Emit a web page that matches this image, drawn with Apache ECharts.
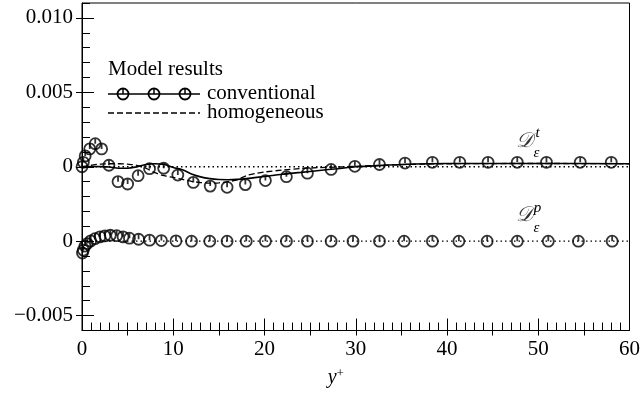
<!DOCTYPE html>
<html>
<head>
<meta charset="utf-8">
<script src="https://cdn.jsdelivr.net/npm/echarts@6/dist/echarts.min.js"></script>
<style>
  html, body { margin: 0; padding: 0; background: #fff; }
  #chart { width: 643px; height: 393px; }
</style>
</head>
<body>
<div id="chart"></div>
<script>
// Vertical shift applied to the pressure-diffusion panel so both terms share one axis
const PANEL_OFFSET = -0.005;

// Turbulent diffusion of dissipation, circles (y+, value)
const turbX = [0.0, 0.15, 0.35, 0.85, 1.45, 2.15, 2.95, 3.95, 5.0, 6.15, 7.4, 8.95, 10.5, 12.2, 14.05, 15.9,
               17.9, 20.1, 22.4, 24.7, 27.3, 29.9, 32.6, 35.4, 38.4, 41.4, 44.5, 47.7, 50.9, 54.6, 58.0];
const turbV = [0.0, 0.0003, 0.00073, 0.0012, 0.00155, 0.0012, 0.0001, -0.001, -0.00116, -0.0006, -0.00013,
               -0.0001, -0.00056, -0.00105, -0.0013, -0.00138, -0.0012, -0.00093, -0.00067, -0.00043, -0.00018,
               0.00003, 0.00015, 0.00025, 0.0003, 0.0003, 0.0003, 0.0003, 0.0003, 0.0003, 0.0003];

// Conventional model, turbulent diffusion (solid line)
const convX = [0, 1, 2, 3, 4, 5, 6, 7, 8, 9, 10, 11, 12, 13, 14, 15, 16, 17, 18, 20, 22, 24, 26, 28, 30, 32, 35, 38, 42, 50, 60];
const convV = [0, 0.00002, 0.00001, -0.00002, -0.0001, -0.0001, 0.0, 0.00015, 0.0002, 0.00015, -0.00005, -0.0002,
               -0.00048, -0.00068, -0.0008, -0.00086, -0.00087, -0.00085, -0.0008, -0.00065, -0.0005, -0.00038,
               -0.00025, -0.00013, 0.0, 0.00006, 0.00015, 0.0002, 0.00022, 0.00022, 0.0002];

// Homogeneous model, turbulent diffusion (dashed line)
const homX = [0, 1, 2, 3, 4, 5, 6, 7, 8, 9, 10, 11, 12, 13, 14, 15, 16, 17, 18, 19, 20, 22, 24, 26, 28, 30, 33, 36, 40, 50, 60];
const homV = [0, 0.0001, 0.00018, 0.0002, 0.0002, 0.00017, 0.0001, -0.0001, -0.0004, -0.0006, -0.00072, -0.00085,
              -0.00098, -0.00106, -0.0011, -0.00108, -0.001, -0.00088, -0.0006, -0.00045, -0.00035, -0.00022,
              -0.00012, -0.00006, -0.00002, 0.00003, 0.0001, 0.00016, 0.0002, 0.00022, 0.0002];

// Pressure diffusion of dissipation, circles (y+, value)
const presX = [0.05, 0.15, 0.33, 0.58, 0.95, 1.42, 1.97, 2.5, 3.1, 3.8, 4.5, 5.2, 6.2, 7.4, 8.7, 10.3, 12, 14, 15.9,
               18, 20.1, 22.4, 24.7, 27.3, 29.7, 32.6, 35.3, 38.4, 41.3, 44.4, 47.7, 51.1, 54.4, 58.1];
const presV = [-0.0008, -0.0006, -0.00033, -0.00016, 0.00002, 0.00017, 0.00029, 0.00035, 0.0004, 0.00037, 0.00029,
               0.0002, 0.00013, 0.00007, 0.00004, 0.00002, 0, 0, 0, 0, 0, 0, 0, 0, 0, 0, 0, 0, 0, 0, 0, 0, 0, 0];

// Axis ticks and labels
const xRange = [0, 60];
const xMidTicks = [5, 10, 15, 20, 25, 30, 35, 40, 45, 50, 55];
const yRange = [-0.011, 0.011];
const yMinorTicks = [-0.011, -0.010, -0.009, -0.008, -0.007, -0.006, -0.005, -0.004, -0.003, -0.002, -0.001, 0,
                     0.001, 0.002, 0.003, 0.004, 0.005, 0.006, 0.007, 0.008, 0.009, 0.010, 0.011];
const yMajorTicks = [-0.010, -0.005, 0, 0.005, 0.010];
const yTickText = ['\u22120.005', '0', '0', '0.005', '0.010'];

const FONT = 'Liberation Serif';
const INK = '#000';

const pair = (xs, vs, shift) => xs.map((x, i) => [x, vs[i] + (shift || 0)]);

// Open circle with a short stroke from its top to its centre
const markerPath = 'path://M0,-5A5,5 0 1 1 0,5A5,5 0 1 1 0,-5ZM0,-5L0,0';

const chart = echarts.init(document.getElementById('chart'), null, { renderer: 'canvas' });

const hiddenAxisBits = { axisLabel: { show: false }, splitLine: { show: false } };
const tickLine = { color: INK, width: 1 };

const option = {
  animation: false,
  backgroundColor: '#fff',
  grid: { left: 82, right: 12, top: 3, bottom: 58, show: true, borderColor: INK, borderWidth: 1, backgroundColor: 'transparent' },
  xAxis: [
    {
      type: 'value', min: xRange[0], max: xRange[1], interval: 10, position: 'bottom',
      axisLine: { onZero: false, lineStyle: { color: INK, width: 1 } },
      axisTick: { inside: true, length: 12, lineStyle: tickLine },
      minorTick: { show: true, splitNumber: 10, length: 8, lineStyle: tickLine },
      axisLabel: { color: INK, fontFamily: FONT, fontSize: 21, margin: 8 },
      splitLine: { show: false },
      name: '{i|y}{s|+}', nameLocation: 'middle', nameGap: 37,
      nameTextStyle: {
        padding: [0, 40, 0, 0],
        rich: {
          i: { fontFamily: FONT, fontStyle: 'italic', fontSize: 20, color: INK },
          s: { fontFamily: FONT, fontSize: 13, color: INK, verticalAlign: 'top', padding: [0, 0, 8, 0] }
        }
      }
    },
    {
      type: 'value', min: xRange[0], max: xRange[1], position: 'bottom',
      axisLine: { show: false, onZero: false },
      axisTick: { inside: false, length: 5, customValues: xMidTicks, lineStyle: tickLine },
      ...hiddenAxisBits
    }
  ],
  yAxis: [
    {
      type: 'value', min: yRange[0], max: yRange[1], position: 'left',
      axisLine: { onZero: false, lineStyle: { color: INK, width: 1 } },
      axisTick: { inside: true, length: 8, customValues: yMinorTicks, lineStyle: tickLine },
      axisLabel: {
        color: INK, fontFamily: FONT, fontSize: 21, margin: 9, customValues: yMajorTicks,
        formatter: (v) => {
          const k = yMajorTicks.findIndex(t => Math.abs(t - v) < 1e-9);
          return k >= 0 ? yTickText[k] : '';
        }
      },
      splitLine: { show: false }
    },
    {
      type: 'value', min: yRange[0], max: yRange[1], position: 'left',
      axisLine: { show: false, onZero: false },
      axisTick: { inside: true, length: 12, customValues: yMajorTicks, lineStyle: tickLine },
      ...hiddenAxisBits
    },
    {
      type: 'value', min: yRange[0], max: yRange[1], position: 'left',
      axisLine: { show: false, onZero: false },
      axisTick: { inside: false, length: 6, customValues: yMajorTicks, lineStyle: tickLine },
      ...hiddenAxisBits
    }
  ],
  series: [
    {
      name: 'zero-t', type: 'line', showSymbol: false, silent: true,
      data: [[xRange[0], 0], [xRange[1], 0]],
      lineStyle: { color: INK, width: 1.3, type: [1.5, 3] }
    },
    {
      name: 'zero-p', type: 'line', showSymbol: false, silent: true,
      data: [[xRange[0], PANEL_OFFSET], [xRange[1], PANEL_OFFSET]],
      lineStyle: { color: INK, width: 1.3, type: [1.5, 3] }
    },
    {
      name: 'homogeneous', type: 'line', showSymbol: false, smooth: 0.3,
      data: pair(homX, homV),
      lineStyle: { color: INK, width: 1.3, type: [6, 3] }
    },
    {
      name: 'conventional', type: 'line', showSymbol: false, smooth: 0.3,
      data: pair(convX, convV),
      lineStyle: { color: INK, width: 1.6 }
    },
    {
      name: 'turb-circles', type: 'scatter', symbol: markerPath, symbolSize: 11,
      data: pair(turbX, turbV),
      itemStyle: { color: 'rgba(0,0,0,0)', borderColor: INK, borderWidth: 1.8 }, z: 5
    },
    {
      name: 'pres-circles', type: 'scatter', symbol: markerPath, symbolSize: 11,
      data: pair(presX, presV, PANEL_OFFSET),
      itemStyle: { color: 'rgba(0,0,0,0)', borderColor: INK, borderWidth: 1.8 }, z: 5
    }
  ]
};

chart.setOption(option);

// Legend block and term labels drawn as graphic elements
const legendLeft = 108, legendRight = 200;
const legendCircles = [123, 154, 185];
const legendFont = '21px "Liberation Serif"';
const graphics = [
  { type: 'text', left: legendLeft, top: 59, style: { text: 'Model results', font: legendFont, fill: INK } },
  { type: 'line', shape: { x1: legendLeft, y1: 94, x2: legendRight, y2: 94 }, style: { stroke: INK, lineWidth: 1.6 } },
  { type: 'line', shape: { x1: legendLeft, y1: 113, x2: legendRight, y2: 113 }, style: { stroke: INK, lineWidth: 1.3, lineDash: [6, 3] } },
  { type: 'text', left: 207, top: 83, style: { text: 'conventional', font: legendFont, fill: INK } },
  { type: 'text', left: 207, top: 102, style: { text: 'homogeneous', font: legendFont, fill: INK } }
];
legendCircles.forEach(cx => {
  graphics.push({ type: 'circle', shape: { cx: cx, cy: 94, r: 5.5 }, style: { fill: 'none', stroke: INK, lineWidth: 1.8 } });
  graphics.push({ type: 'line', shape: { x1: cx, y1: 88.5, x2: cx, y2: 94 }, style: { stroke: INK, lineWidth: 1.5 } });
});

// Term labels placed from data coordinates
const termLabels = [
  { at: [48.5, 0.0017], sup: 't' },
  { at: [48.5, 0.0017 + PANEL_OFFSET], sup: 'p' }
];
termLabels.forEach(t => {
  const p = chart.convertToPixel({ xAxisIndex: 0, yAxisIndex: 0 }, t.at);
  graphics.push({ type: 'text', x: p[0], y: p[1], style: { text: '\uD835\uDC9F', font: 'italic 21px "DejaVu Serif"', fill: '#333', align: 'center', verticalAlign: 'middle' } });
  graphics.push({ type: 'text', x: p[0] + 13, y: p[1] - 8, style: { text: t.sup, font: 'italic 15px "Liberation Serif"', fill: INK, align: 'center', verticalAlign: 'middle' } });
  graphics.push({ type: 'text', x: p[0] + 12, y: p[1] + 12, style: { text: '\u03B5', font: 'italic 15px "Liberation Serif"', fill: INK, align: 'center', verticalAlign: 'middle' } });
});

chart.setOption({ graphic: graphics });
</script>
</body>
</html>
